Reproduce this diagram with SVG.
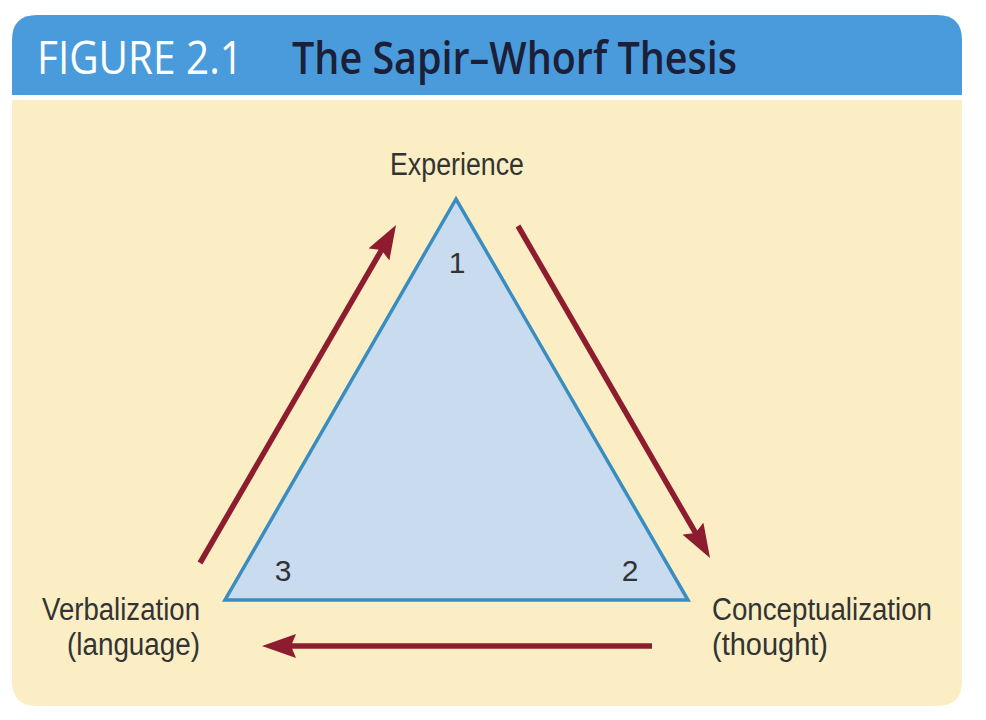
<svg xmlns="http://www.w3.org/2000/svg" width="986" height="720" viewBox="0 0 986 720">
<style>
.lbl{font-family:"Liberation Sans",Arial,sans-serif;font-size:31px;fill:#333333}
.num{font-family:"Liberation Sans",Arial,sans-serif;font-size:30px;fill:#333333}
.conn{stroke:#8c1c2e;stroke-width:5.5;fill:none;marker-end:url(#ah)}
</style>
<defs>
<marker id="ah" viewBox="0 0 34 24" refX="14" refY="12" markerWidth="34" markerHeight="24" markerUnits="userSpaceOnUse" orient="auto">
<path d="M0,0 L34,12 L0,24 L5,12 Z" fill="#8c1c2e"/>
</marker>
</defs>
<rect width="986" height="720" fill="#ffffff"/>
<g id="header">
<path d="M12,95 L12,40 Q12,15 37,15 L937,15 Q962,15 962,40 L962,95 Z" fill="#4a9bdb"/>
<text x="37" y="74" font-family="Open Sans,Liberation Sans,sans-serif" font-size="46" fill="#ffffff" textLength="206" lengthAdjust="spacingAndGlyphs">FIGURE 2.1</text>
<text x="292" y="74" font-family="Open Sans,Liberation Sans,sans-serif" font-size="46" font-weight="600" fill="#1b2038" textLength="445" lengthAdjust="spacingAndGlyphs">The Sapir–Whorf Thesis</text>
</g>
<g id="panel">
<path d="M12,100 L962,100 L962,681 Q962,706 937,706 L37,706 Q12,706 12,681 Z" fill="#fbeec4"/>
</g>
<g id="triangle">
<polygon points="456,199 225,600 688,600" fill="#c9dbee" stroke="#3a8dc0" stroke-width="3.5" stroke-linejoin="miter"/>
<text class="num" x="457" y="273" text-anchor="middle">1</text>
<text class="num" x="630" y="581" text-anchor="middle">2</text>
<text class="num" x="283" y="581" text-anchor="middle">3</text>
</g>
<g id="experience">
<text class="lbl" x="390" y="175" textLength="134" lengthAdjust="spacingAndGlyphs">Experience</text>
</g>
<g id="conceptualization">
<text class="lbl" x="712" y="620" textLength="220" lengthAdjust="spacingAndGlyphs">Conceptualization</text>
<text class="lbl" x="712" y="655" textLength="116" lengthAdjust="spacingAndGlyphs">(thought)</text>
</g>
<g id="verbalization">
<text class="lbl" x="42" y="620" textLength="158" lengthAdjust="spacingAndGlyphs">Verbalization</text>
<text class="lbl" x="67" y="655" textLength="133" lengthAdjust="spacingAndGlyphs">(language)</text>
</g>
<g id="connectors">
<line class="conn" x1="200" y1="563" x2="386" y2="242.3"/>
<line class="conn" x1="518" y1="226" x2="700" y2="540.7"/>
<line class="conn" x1="652" y1="646" x2="282" y2="646"/>
</g>
</svg>
